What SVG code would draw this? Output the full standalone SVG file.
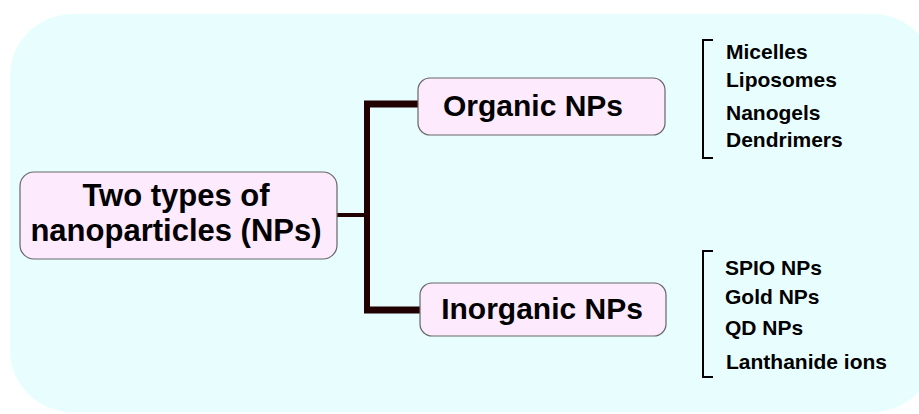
<svg xmlns="http://www.w3.org/2000/svg" width="919" height="414" viewBox="0 0 919 414">
<style>
.node{fill:#fdeafc;stroke:#666;stroke-width:1.2}
.t{font-family:"Liberation Sans",Arial,sans-serif;font-weight:bold;fill:#000}
.big{font-size:31px;text-anchor:middle}
.mid{font-size:30px;text-anchor:middle}
.item{font-size:21px}
.br{fill:none;stroke:#000;stroke-width:2}
.conn{fill:none;stroke:#200000;stroke-linecap:butt}
</style>
<rect x="10" y="14" width="925" height="398" rx="62" fill="#e8fefe"/>
<g id="connectors">
<line class="conn" x1="337" y1="215" x2="367" y2="215" stroke-width="4"/>
<line class="conn" x1="367" y1="101" x2="367" y2="313" stroke-width="6"/>
<line class="conn" x1="364" y1="104" x2="418" y2="104" stroke-width="7"/>
<line class="conn" x1="364" y1="310" x2="420" y2="310" stroke-width="7"/>
</g>
<g id="root">
<rect class="node" x="20" y="172" width="317" height="87" rx="14"/>
<text class="t big" x="176" y="206">Two types of</text>
<text class="t big" x="176" y="241">nanoparticles (NPs)</text>
</g>
<g id="organic">
<rect class="node" x="418" y="78" width="247" height="57" rx="12"/>
<text class="t mid" x="533" y="116">Organic NPs</text>
</g>
<g id="inorganic">
<rect class="node" x="420" y="283" width="246" height="53" rx="12"/>
<text class="t mid" x="542" y="319">Inorganic NPs</text>
</g>
<g id="organic-list">
<path class="br" d="M713,40 H703 V158 H713"/>
<text class="t item" x="726" y="59">Micelles</text>
<text class="t item" x="726" y="87">Liposomes</text>
<text class="t item" x="726" y="120">Nanogels</text>
<text class="t item" x="726" y="147">Dendrimers</text>
</g>
<g id="inorganic-list">
<path class="br" d="M713,251 H703 V377 H713"/>
<text class="t item" x="725" y="275">SPIO NPs</text>
<text class="t item" x="725" y="304">Gold NPs</text>
<text class="t item" x="725" y="335">QD NPs</text>
<text class="t item" x="726" y="369">Lanthanide ions</text>
</g>
</svg>
